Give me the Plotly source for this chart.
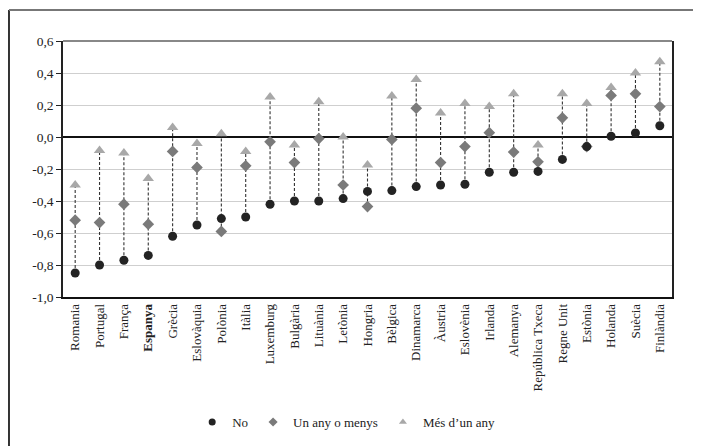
import plotly.graph_objects as go

countries = ["Romania", "Portugal", "França", "Espanya", "Grècia", "Eslovàquia", "Polònia",
             "Itàlia", "Luxemburg", "Bulgària", "Lituània", "Letònia", "Hongria", "Bèlgica",
             "Dinamarca", "Àustria", "Eslovènia", "Irlanda", "Alemanya", "República Txeca",
             "Regne Unit", "Estònia", "Holanda", "Suècia", "Finlàndia"]
no_vals = [-0.85, -0.80, -0.77, -0.74, -0.62, -0.55, -0.51,
           -0.50, -0.42, -0.40, -0.40, -0.385, -0.34, -0.335,
           -0.31, -0.30, -0.295, -0.22, -0.22, -0.215,
           -0.14, -0.06, 0.005, 0.025, 0.07]
un_any_vals = [-0.52, -0.535, -0.42, -0.545, -0.09, -0.19, -0.59,
               -0.18, -0.03, -0.16, -0.01, -0.30, -0.435, -0.015,
               0.18, -0.16, -0.06, 0.027, -0.094, -0.155,
               0.12, -0.06, 0.26, 0.27, 0.19]
mes_any_vals = [-0.30, -0.085, -0.10, -0.26, 0.06, -0.04, 0.02,
                -0.09, 0.25, -0.05, 0.22, 0.0, -0.175, 0.256,
                0.36, 0.15, 0.21, 0.19, 0.27, -0.05,
                0.27, 0.21, 0.31, 0.40, 0.47]
tick_vals = [0.6, 0.4, 0.2, 0.0, -0.2, -0.4, -0.6, -0.8, -1.0]
tick_text = ["0,6", "0,4", "0,2", "0,0", "-0,2", "-0,4", "-0,6", "-0,8", "-1,0"]
series_names = ["No", "Un any o menys", "Més d\u2019un any"]

x_labels = ["<b>%s</b>" % c if c == "Espanya" else c for c in countries]

FONT = "Liberation Serif"
C_NO, C_UN, C_MES = "#232323", "#7a7a7a", "#a8a8a8"

fig = go.Figure()

# dashed connectors from min to max per country
lx, ly = [], []
for c, a, b, d in zip(countries, no_vals, un_any_vals, mes_any_vals):
    lx += [c, c, None]
    ly += [min(a, b, d), max(a, b, d), None]
fig.add_trace(go.Scatter(x=lx, y=ly, mode="lines", showlegend=False, hoverinfo="skip",
                         line=dict(color="#333333", width=1.1, dash="3px,2px")))

fig.add_trace(go.Scatter(x=countries, y=mes_any_vals, mode="markers", showlegend=False,
                         name=series_names[2],
                         marker=dict(symbol="triangle-up", size=10, color=C_MES)))
fig.add_trace(go.Scatter(x=countries, y=un_any_vals, mode="markers", showlegend=False,
                         name=series_names[1],
                         marker=dict(symbol="diamond", size=9, color=C_UN)))
fig.add_trace(go.Scatter(x=countries, y=no_vals, mode="markers", showlegend=False,
                         name=series_names[0],
                         marker=dict(symbol="circle", size=9, color=C_NO)))

# legend-only entries (smaller symbols as in the reference legend)
for nm, sym, col in zip(series_names, ["circle", "diamond", "triangle-up"], [C_NO, C_UN, C_MES]):
    fig.add_trace(go.Scatter(x=[None], y=[None], mode="markers", name=nm,
                             marker=dict(symbol=sym, size=7, color=col)))

fig.update_layout(
    width=693, height=438,
    margin=dict(l=55, r=29, t=33, b=149, autoexpand=False),
    paper_bgcolor="white", plot_bgcolor="white",
    font=dict(family=FONT, size=13, color="#222222"),
    showlegend=True,
    legend=dict(orientation="h", x=0.465, xanchor="center", y=-0.43, yanchor="top",
                font=dict(family=FONT, size=13, color="#222222"),
                itemwidth=30, tracegroupgap=0),
    xaxis=dict(type="category", categoryorder="array", categoryarray=countries,
               tickmode="array", tickvals=countries, ticktext=x_labels, automargin=False,
               tickangle=-90, showgrid=False, showline=True, linecolor="#111111", linewidth=1.5,
               ticks="", tickfont=dict(family=FONT, size=13, color="#222222"),
               range=[-0.5, len(countries) - 0.5]),
    yaxis=dict(range=[-1.0, 0.6], tickmode="array", tickvals=tick_vals, ticktext=tick_text,
               automargin=False,
               showgrid=True, gridcolor="#cfcfcf", gridwidth=1.2,
               zeroline=True, zerolinecolor="#111111", zerolinewidth=1.5,
               showline=True, linecolor="#222222", linewidth=1.5, mirror=True,
               ticks="outside", ticklen=5, tickcolor="#222222",
               tickfont=dict(family=FONT, size=13.5, color="#222222")),
    shapes=[
        dict(type="line", xref="paper", yref="paper", x0=0, x1=1, y0=1, y1=1,
             line=dict(color="#888888", width=2)),
        dict(type="line", xref="paper", yref="paper", x0=-0.0887, x1=-0.0887, y0=1.121, y1=-0.6,
             line=dict(color="#333333", width=2)),
        dict(type="line", xref="paper", yref="paper", x0=-0.0887, x1=1.06, y0=1.121, y1=1.121,
             line=dict(color="#777777", width=2)),
    ],
)

fig.write_html("out.html")
